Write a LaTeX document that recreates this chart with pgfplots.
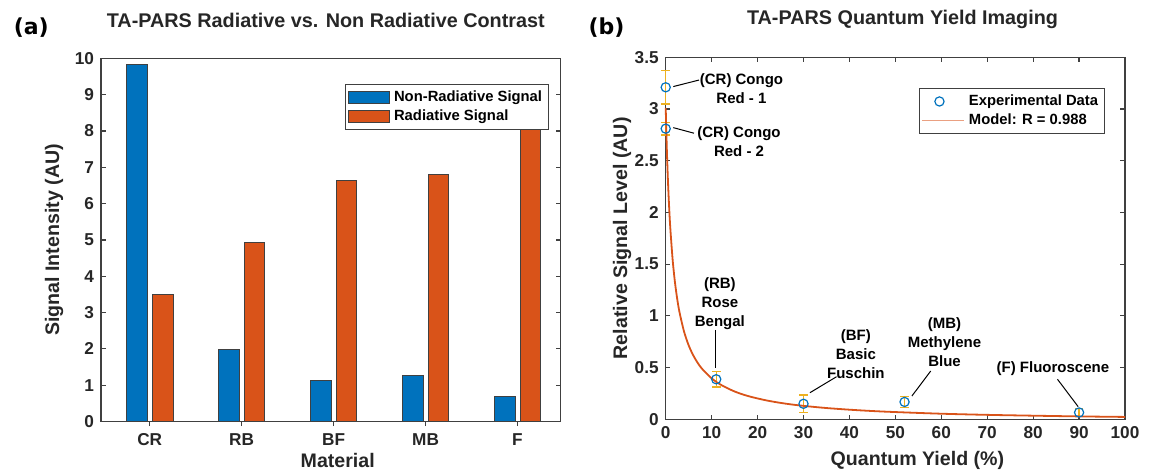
\documentclass[border=0pt]{standalone}
\usepackage{fontspec}
\setmainfont{Liberation Sans}
\newfontfamily\dejavu{DejaVu Sans}
\usepackage{pgfplots}
\pgfplotsset{compat=1.18}
\definecolor{mblue}{HTML}{0072BD}
\definecolor{morange}{HTML}{D95319}
\definecolor{myellow}{HTML}{EDB120}
\definecolor{mtext}{HTML}{262626}
\definecolor{maxis}{HTML}{404040}
\newcommand{\tickfont}{\fontsize{8.6}{10}\selectfont\bfseries}
\newcommand{\labfont}{\fontsize{9.8}{11}\selectfont\bfseries}
\newcommand{\titfont}{\fontsize{9.9}{11}\selectfont\bfseries}
\newcommand{\legfont}{\fontsize{7.4}{8.6}\selectfont\bfseries}
\newcommand{\annfont}{\fontsize{7.5}{9.5}\selectfont\bfseries}
\pgfplotsset{
  mstyle/.style={
    scale only axis,
    tick align=inside,
    major tick length=2.3pt,
    axis line style={draw=maxis, line width=0.6pt},
    every tick/.style={maxis, line width=0.6pt},
    /pgf/number format/assume math mode=true,
    tick label style={font=\tickfont, text=mtext},
    title style={font=\titfont, text=mtext},
    legend style={draw=maxis, line width=0.5pt, font=\legfont, text=black,
      inner sep=1.2pt, row sep=-1.5pt, cells={anchor=west}},
  },
  barleg/.style={legend image code/.code={\draw[##1] (0pt,-2.9pt) rectangle (20.8pt,2.9pt);}},
  lineleg/.style={legend image code/.code={\draw[morange!55, line width=0.6pt] (0pt,0pt) -- (21pt,0pt);}},
}
\begin{document}
\begin{tikzpicture}
\path[use as bounding box] (0,0) rectangle (574.5pt,235.5pt);
% ---------------- (a)
\begin{axis}[mstyle,
  at={(50.5pt,24.75pt)}, anchor=south west,
  width=229.85pt, height=181.6pt,
  ybar, bar width=0.225,
  xmin=0.47, xmax=5.47, ymin=0, ymax=10,
  xtick={1,2,3,4,5}, xticklabels={CR,RB,BF,MB,F},
  xtick pos=left,
  ytick={0,1,...,10},
  title={TA-PARS Radiative vs. Non Radiative Contrast},
  title style={at={(rel axis cs:0.489,1)}, anchor=base, yshift=9.5pt},
  xlabel={Material},
  every axis x label/.style={at={(rel axis cs:0.515,-0.127)}, anchor=base, font=\labfont, text=mtext},
  ylabel={Signal Intensity (AU)},
  every axis y label/.style={at={(rel axis cs:-0.102,0.5)}, anchor=center, rotate=90, font=\labfont, text=mtext},
  legend style={at={(rel axis cs:0.9745,0.930)}, anchor=north east},
]
\addplot[fill=mblue, draw=black!75, line width=0.4pt, bar shift=-0.14, barleg]
  coordinates {(1,9.83) (2,1.99) (3,1.13) (4,1.26) (5,0.69)};
\addlegendentry{Non-Radiative Signal}
\addplot[fill=morange, draw=black!75, line width=0.4pt, bar shift=0.14, barleg]
  coordinates {(1,3.50) (2,4.93) (3,6.64) (4,6.81) (5,8.09)};
\addlegendentry{Radiative Signal}
\end{axis}
\node[font=\dejavu\fontsize{11}{13}\selectfont\bfseries, text=black] at (15.65pt,221.75pt) {(a)};
% ---------------- (b)
\begin{axis}[mstyle,
  at={(332.85pt,25.85pt)}, anchor=south west,
  width=229.65pt, height=181pt,
  clip=false,
  xmin=0, xmax=100, ymin=0, ymax=3.5,
  xtick={0,10,...,100}, ytick={0,0.5,...,3.5},
  yticklabels={0,0.5,1,1.5,2,2.5,3,3.5},
  title={TA-PARS Quantum Yield Imaging},
  title style={at={(rel axis cs:0.5156,1)}, anchor=base, yshift=10.6pt},
  xlabel={Quantum Yield (\%)},
  every axis x label/.style={at={(rel axis cs:0.548,-0.127)}, anchor=base, font=\labfont, text=mtext},
  ylabel={Relative Signal Level (AU)},
  every axis y label/.style={at={(rel axis cs:-0.095,0.5)}, anchor=center, rotate=90, font=\labfont, text=mtext},
  legend style={at={(rel axis cs:0.9565,0.916)}, anchor=north east},
]
\addplot[only marks, mark=o, mark size=2.3pt, mark options={mblue, line width=0.6pt},
  error bars/.cd, y dir=both, y explicit, error mark=-,
  error bar style={myellow, line width=0.7pt},
  error mark options={rotate=90, myellow, mark size=2.2pt, line width=0.7pt}]
  coordinates {
  (0,3.21) +- (0,0.16)
  (0,2.81) +- (0,0.06)
  (11,0.387) +- (0,0.073)
  (30,0.15) +- (0,0.085)
  (52,0.168) +- (0,0.052)
  (90,0.066) +- (0,0.041)
  };
\addlegendentry{Experimental Data}
\addplot[morange, line width=0.9pt, smooth, no marks, lineleg]
  coordinates {
  (0,3.012) (0.25,2.604) (0.5,2.293) (0.75,2.047) (1,1.849) (1.5,1.547)
  (2,1.330) (2.5,1.165) (3,1.036) (4,0.847) (5,0.715) (6,0.618) (7,0.543)
  (8,0.484) (10,0.396) (12,0.334) (15,0.269) (18,0.224) (22,0.182)
  (26,0.152) (30,0.130) (35,0.109) (40,0.093) (45,0.080) (50,0.070)
  (60,0.054) (70,0.043) (80,0.035) (90,0.028) (100,0.023)
  };
\addlegendentry{Model: R = 0.988}
% annotations
\draw[black, line width=0.5pt] (axis cs:1.65,3.217) -- (axis cs:7.25,3.28);
\draw[black, line width=0.5pt] (axis cs:1.65,2.82) -- (axis cs:6.16,2.766);
\draw[black, line width=0.5pt] (axis cs:10.9,0.864) -- (axis cs:10.9,0.493);
\draw[black, line width=0.5pt] (axis cs:31.4,0.257) -- (axis cs:37.2,0.412);
\draw[black, line width=0.5pt] (axis cs:53.6,0.225) -- (axis cs:57.7,0.467);
\draw[black, line width=0.5pt] (axis cs:85.3,0.387) -- (axis cs:89.8,0.122);
\node[font=\annfont, align=center, inner sep=0pt] at (axis cs:16.5,3.196) {(CR) Congo\\Red - 1};
\node[font=\annfont, align=center, inner sep=0pt] at (axis cs:15.96,2.685) {(CR) Congo\\Red - 2};
\node[font=\annfont, align=center, inner sep=0pt] at (axis cs:11.8,1.122) {(RB)\\Rose\\Bengal};
\node[font=\annfont, align=center, inner sep=0pt] at (axis cs:41.4,0.629) {(BF)\\Basic\\Fuschin};
\node[font=\annfont, align=center, inner sep=0pt] at (axis cs:60.7,0.75) {(MB)\\Methylene\\Blue};
\node[font=\annfont, align=center, inner sep=0pt] at (axis cs:84.3,0.493) {(F) Fluoroscene};
\end{axis}
\node[font=\dejavu\fontsize{11}{13}\selectfont\bfseries, text=black] at (303.25pt,221.75pt) {(b)};
\end{tikzpicture}
\end{document}
